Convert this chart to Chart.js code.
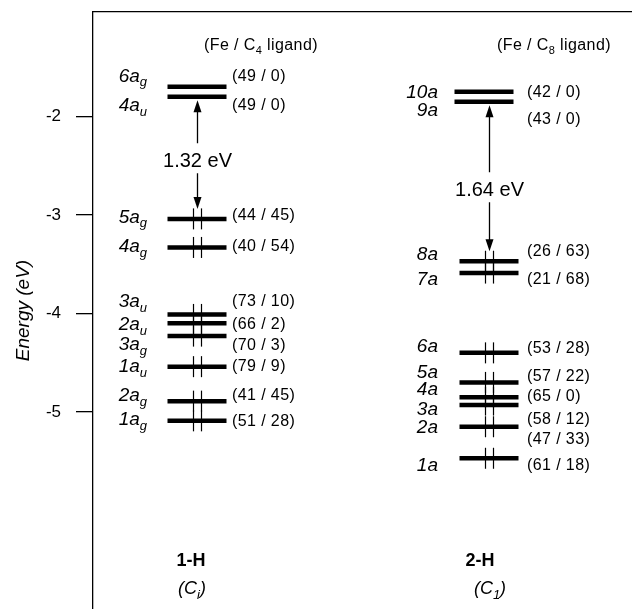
<!DOCTYPE html>
<html lang="en">
<head>
    <meta charset="UTF-8">
    <title>Frontier orbital levels 1-H / 2-H</title>
    <script src="https://cdn.jsdelivr.net/npm/chart.js"></script>
    <style>
        body { margin: 0; background: #fff; }
        #wrap { width: 632px; height: 609px; }
    </style>
</head>
<body>
<div id="wrap"><canvas id="levels"></canvas></div>
<script>
    // ---- data (energies in eV, "_x" = subscript x) ----
    const compounds = ['1-H', '2-H'];
    const symmetries = ['(C_i)', '(C_1)'];
    const ligands = ['(Fe / C_4 ligand)', '(Fe / C_8 ligand)'];
    const gapLabels = ['1.32 eV', '1.64 eV'];

    const names1H = ['6a_g', '4a_u', '5a_g', '4a_g', '3a_u', '2a_u', '3a_g', '1a_u', '2a_g', '1a_g'];
    const energy1H = [-1.70, -1.80, -3.04, -3.33, -4.01, -4.10, -4.23, -4.54, -4.89, -5.09];
    const comp1H = ['(49 / 0)', '(49 / 0)', '(44 / 45)', '(40 / 54)', '(73 / 10)', '(66 / 2)', '(70 / 3)', '(79 / 9)', '(41 / 45)', '(51 / 28)'];
    const occ1H = [0, 0, 2, 2, 2, 2, 2, 2, 2, 2];

    const names2H = ['10a', '9a', '8a', '7a', '6a', '5a', '4a', '3a', '2a', '1a'];
    const energy2H = [-1.75, -1.85, -3.47, -3.59, -4.40, -4.70, -4.85, -4.93, -5.15, -5.47];
    const comp2H = ['(42 / 0)', '(43 / 0)', '(26 / 63)', '(21 / 68)', '(53 / 28)', '(57 / 22)', '(65 / 0)', '(58 / 12)', '(47 / 33)', '(61 / 18)'];
    const occ2H = [0, 0, 2, 2, 2, 2, 2, 2, 2, 2];

    const yTicks = [-2, -3, -4, -5];
    const yMin = -7, yMax = -0.94;

    // ---- layout (pixels) ----
    const FONT = '"Liberation Sans", Arial, Helvetica, sans-serif';
    const colCenter = [104, 396];      // x inside the plot area
    const lumoShift = [0, -5];         // empty levels drawn slightly left in 2-H
    const nameRight = [-50, -51];
    const compLeft = [35, 38];
    const headerDx = [64, 65];
    const footDx = [[-6, -5], [-9, 1]];
    const gapDy = [60, 84];
    const nameDy = [
        [-12, 8, -3, -2, -14, 0, 7, -1, -7, -2],
        [0, 8, -8, 5, -8, -11, -9, 3, 0, 6]
    ];
    const compDy = [
        [-11, 8, -4, -2, -14, 0, 8, -1, -7, 0],
        [0, 17, -11, 5, -5, -7, -2, 13, 12, 6]
    ];

    const cols = [
        { names: names1H, energy: energy1H, comp: comp1H, occ: occ1H },
        { names: names2H, energy: energy2H, comp: comp2H, occ: occ2H }
    ];

    function barX(c, i) {
        return colCenter[c] + (cols[c].occ[i] ? 0 : lumoShift[c]);
    }

    // draws text where "_x" makes x a subscript
    function richText(ctx, str, x, y, size, style, align) {
        const parts = [];
        for (let i = 0; i < str.length; i++) {
            if (str[i] === '_') {
                parts.push({ t: str[i + 1], sub: true });
                i++;
            } else if (parts.length && !parts[parts.length - 1].sub) {
                parts[parts.length - 1].t += str[i];
            } else {
                parts.push({ t: str[i], sub: false });
            }
        }
        const mainFont = `${style} ${size}px ${FONT}`;
        const subFont = `${style} ${Math.round(size * 0.7)}px ${FONT}`;
        let w = 0;
        parts.forEach(p => {
            ctx.font = p.sub ? subFont : mainFont;
            p.w = ctx.measureText(p.t).width;
            w += p.w;
        });
        let cx = align === 'right' ? x - w : align === 'center' ? x - w / 2 : x;
        const base = y + size * 0.35;
        parts.forEach(p => {
            ctx.font = p.sub ? subFont : mainFont;
            ctx.fillText(p.t, cx, base + (p.sub ? size * 0.25 : 0));
            cx += p.w;
        });
    }

    function arrowHead(ctx, x, tipY, dir) {
        ctx.beginPath();
        ctx.moveTo(x, tipY);
        ctx.lineTo(x - 4, tipY - dir * 12);
        ctx.lineTo(x + 4, tipY - dir * 12);
        ctx.closePath();
        ctx.fill();
    }

    const diagramPlugin = {
        id: 'diagram',
        afterDatasetsDraw(chart) {
            const ctx = chart.ctx;
            const xs = chart.scales.x, ys = chart.scales.y;
            const area = chart.chartArea;
            ctx.save();
            ctx.fillStyle = '#000';
            ctx.strokeStyle = '#000';
            ctx.textAlign = 'left';
            ctx.textBaseline = 'alphabetic';

            cols.forEach((col, c) => {
                const cx = xs.getPixelForValue(colCenter[c]);

                // electron pairs
                ctx.lineWidth = 1.2;
                col.energy.forEach((e, i) => {
                    if (!col.occ[i]) return;
                    const y = ys.getPixelForValue(e);
                    [-4, 4].forEach(dx => {
                        ctx.beginPath();
                        ctx.moveTo(cx + 0.5 + dx, y - 10.5);
                        ctx.lineTo(cx + 0.5 + dx, y + 10.5);
                        ctx.stroke();
                    });
                });

                // HOMO-LUMO gap arrows
                const lumo = col.occ.lastIndexOf(0);
                const homo = col.occ.indexOf(2);
                const ax = cx + 0.5;
                const upTip = ys.getPixelForValue(col.energy[lumo]) + 3.5;
                const downTip = ys.getPixelForValue(col.energy[homo]) - 10;
                const ly = upTip + gapDy[c];
                ctx.lineWidth = 1.3;
                ctx.beginPath();
                ctx.moveTo(ax, upTip + 10);
                ctx.lineTo(ax, ly - 17);
                ctx.moveTo(ax, ly + 13);
                ctx.lineTo(ax, downTip - 10);
                ctx.stroke();
                arrowHead(ctx, ax, upTip, -1);
                arrowHead(ctx, ax, downTip, 1);
                ctx.letterSpacing = '0px';
                richText(ctx, gapLabels[c], ax, ly, 20, 'normal', 'center');

                // level names and compositions
                col.names.forEach((n, i) => {
                    const y = ys.getPixelForValue(col.energy[i]);
                    ctx.letterSpacing = '0px';
                    richText(ctx, n, cx + nameRight[c], y + nameDy[c][i], 19, 'italic', 'right');
                    ctx.letterSpacing = '0.4px';
                    richText(ctx, col.comp[i], cx + compLeft[c], y + compDy[c][i], 16, 'normal', 'left');
                });

                // headers and compound labels
                ctx.letterSpacing = '0.4px';
                richText(ctx, ligands[c], cx + headerDx[c], area.top + 32, 16, 'normal', 'center');
                ctx.letterSpacing = '0px';
                richText(ctx, compounds[c], cx + footDx[c][0], area.bottom - 49, 18, 'bold', 'center');
                richText(ctx, symmetries[c], cx + footDx[c][1], area.bottom - 21, 18, 'italic', 'center');
            });
            ctx.restore();
        }
    };

    const datasets = cols.map((col, c) => ({
        data: col.energy.map((e, i) => ({ x: barX(c, i), y: e })),
        pointStyle: 'line',
        pointRadius: 29.5,
        pointBorderWidth: 4.5,
        borderColor: '#000',
        backgroundColor: '#000',
        showLine: false
    }));

    new Chart(document.getElementById('levels'), {
        type: 'scatter',
        data: { datasets: datasets },
        options: {
            responsive: true,
            maintainAspectRatio: false,
            animation: false,
            events: [],
            layout: { autoPadding: false, padding: { top: 12, right: 0, bottom: 0, left: 0 } },
            plugins: { legend: { display: false }, tooltip: { enabled: false } },
            scales: {
                x: {
                    type: 'linear',
                    position: 'top',
                    min: 0,
                    max: 539,
                    grid: { display: false, drawTicks: false },
                    ticks: { display: false },
                    border: { display: true, color: '#000', width: 1.3 },
                    afterFit(s) {
                        s.height = 0;
                        s.paddingLeft = s.paddingRight = 0;
                    }
                },
                y: {
                    type: 'linear',
                    min: yMin,
                    max: yMax,
                    afterFit(s) {
                        s.width = 93;
                        s.paddingTop = s.paddingBottom = 0;
                    },
                    afterBuildTicks(s) { s.ticks = yTicks.map(v => ({ value: v })); },
                    grid: { drawOnChartArea: false, tickLength: 17, color: '#000', lineWidth: 1.3 },
                    border: { display: true, color: '#000', width: 1.3 },
                    ticks: {
                        padding: 15,
                        color: '#000',
                        font: { size: 17, family: FONT },
                        callback: v => String(v)
                    },
                    title: {
                        display: true,
                        text: 'Energy (eV)',
                        color: '#000',
                        font: { size: 19, style: 'italic', family: FONT },
                        padding: { top: 12, bottom: 0 }
                    }
                }
            }
        },
        plugins: [diagramPlugin]
    });
</script>
</body>
</html>
